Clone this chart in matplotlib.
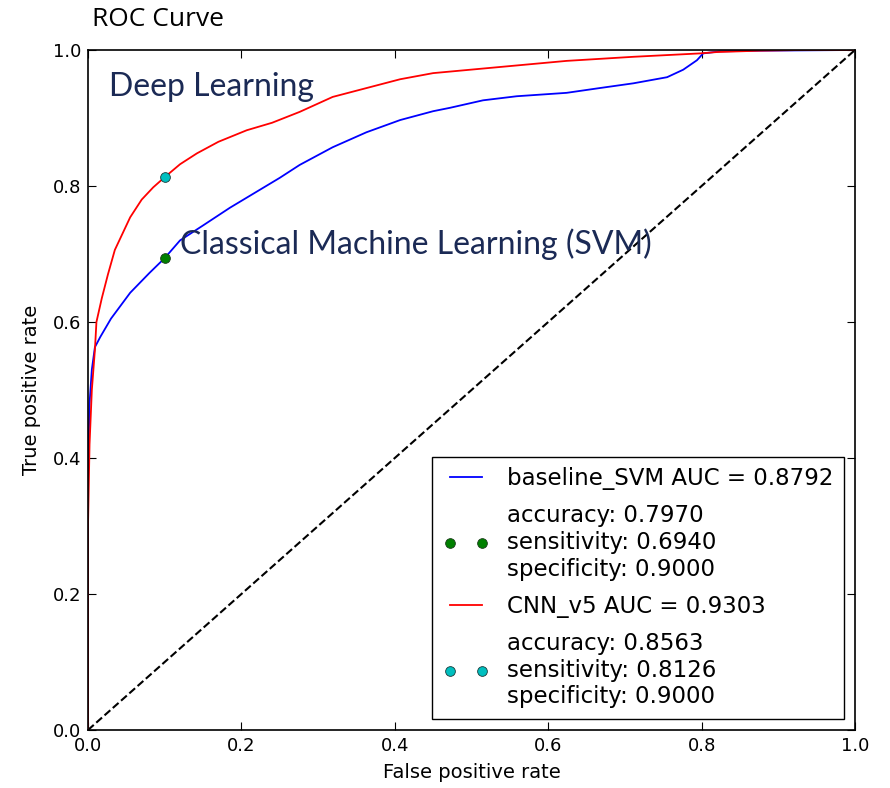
import numpy as np
import matplotlib.pyplot as plt

# ROC points
svm_fpr = [0, 0, 0.002, 0.005, 0.009, 0.016, 0.03, 0.055, 0.08, 0.1, 0.12, 0.15, 0.185, 0.25,
           0.276, 0.319, 0.363, 0.407, 0.45, 0.472, 0.515, 0.559, 0.624, 0.667, 0.711, 0.755,
           0.776, 0.794, 0.802, 0.824, 0.876, 1.0]
svm_tpr = [0, 0.38, 0.48, 0.53, 0.563, 0.578, 0.605, 0.643, 0.672, 0.694, 0.72, 0.742, 0.768, 0.812,
           0.831, 0.857, 0.879, 0.897, 0.91, 0.915, 0.926, 0.932, 0.937, 0.944, 0.951, 0.96,
           0.971, 0.985, 0.995, 0.998, 0.999, 1.0]

cnn_fpr = [0, 0, 0.002, 0.005, 0.009, 0.011, 0.018, 0.026, 0.035, 0.045, 0.055, 0.07, 0.085, 0.1,
           0.12, 0.142, 0.17, 0.207, 0.24, 0.276, 0.319, 0.363, 0.407, 0.45, 0.537, 0.624, 0.711,
           0.798, 0.82, 0.876, 0.93, 1.0]
cnn_tpr = [0, 0.3, 0.42, 0.5, 0.559, 0.6, 0.635, 0.67, 0.706, 0.73, 0.754, 0.78, 0.798, 0.813,
           0.832, 0.848, 0.865, 0.882, 0.893, 0.909, 0.931, 0.944, 0.957, 0.966, 0.975, 0.984, 0.99,
           0.995, 0.997, 0.999, 1.0, 1.0]

svm_auc = 0.8792
cnn_auc = 0.9303
svm_op = (0.1, 0.6940)   # operating point (fpr, sensitivity)
cnn_op = (0.1, 0.8126)
svm_stats = (0.7970, 0.6940, 0.9000)
cnn_stats = (0.8563, 0.8126, 0.9000)

fig = plt.figure(figsize=(8.9, 7.88), dpi=100)
ax = fig.add_axes([88 / 890, 58 / 788, 767 / 890, 680 / 788])

ax.plot([0, 1], [0, 1], 'k--', lw=1.5)
ax.plot(svm_fpr, svm_tpr, color='b', lw=1.3, label='baseline_SVM AUC = %.4f' % svm_auc)
ax.plot([svm_op[0]], [svm_op[1]], 'o', color='g', mec='#1a3a1a', ms=7, mew=0.6,
        label='accuracy: %.4f\nsensitivity: %.4f\nspecificity: %.4f' % svm_stats)
ax.plot(cnn_fpr, cnn_tpr, color='r', lw=1.3, label='CNN_v5 AUC = %.4f' % cnn_auc)
ax.plot([cnn_op[0]], [cnn_op[1]], 'o', color='c', mec='#1a3a3a', ms=7, mew=0.6,
        label='accuracy: %.4f\nsensitivity: %.4f\nspecificity: %.4f' % cnn_stats)

ax.set_xlim(0, 1)
ax.set_ylim(0, 1)
ax.set_xticks(np.arange(0, 1.01, 0.2))
ax.set_yticks(np.arange(0, 1.01, 0.2))
ax.tick_params(direction='in', top=True, right=True, length=6, labelsize=13, pad=5)
ax.set_xlabel('False positive rate', fontsize=14, labelpad=6)
ax.set_ylabel('True positive rate', fontsize=14, labelpad=8)
for s in ax.spines.values():
    s.set_linewidth(1.2)

leg = ax.legend(loc='lower right', numpoints=2, fontsize=16.5, fancybox=False,
                edgecolor='k', framealpha=1, borderaxespad=0.5, handlelength=2,
                labelspacing=0.62, borderpad=0.45)
leg.get_frame().set_linewidth(1.0)

navy = '#1b2a55'
ax.text(0.028, 0.945, 'Deep Learning', color=navy, fontsize=23, family='Lato',
        transform=ax.transAxes, va='center')
ax.text(0.12, 0.715, 'Classical Machine Learning (SVM)', color=navy, fontsize=23, family='Lato',
        va='center')

fig.text(92 / 890, 1 - 19 / 788, 'ROC Curve', fontsize=19, family='Open Sans', va='center')

fig.savefig('out.png', dpi=100)
